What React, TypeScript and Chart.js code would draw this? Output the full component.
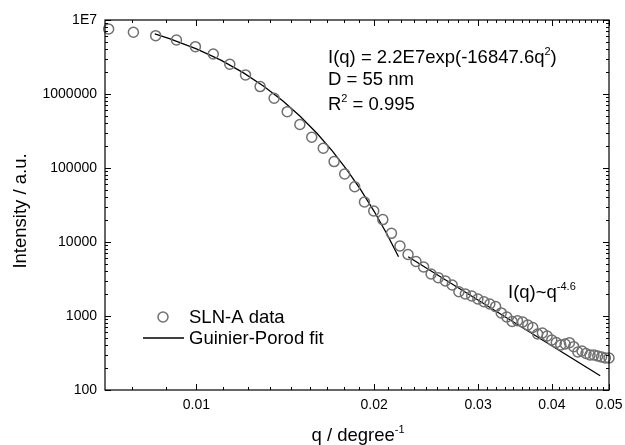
import React, { useEffect, useRef } from 'react';
import { Chart, registerables } from 'chart.js';

Chart.register(...registerables);

// ---- data ----
const Q_DATA = [
  0.0071, 0.00782, 0.00853, 0.00925, 0.00996, 0.01068, 0.01139, 0.01211, 0.01282, 0.01354,
  0.01425, 0.01497, 0.01568, 0.0164, 0.01711, 0.01783, 0.01854, 0.01926, 0.01997, 0.02069,
  0.0214, 0.02212, 0.02283, 0.02355, 0.02426, 0.02498, 0.02569, 0.02641, 0.02712, 0.02784,
  0.02855, 0.02927, 0.02998, 0.0307, 0.03141, 0.03213, 0.03284, 0.03356, 0.03427, 0.03499,
  0.0357, 0.03642, 0.03713, 0.03785, 0.03856, 0.03928, 0.03999, 0.04071, 0.04142, 0.04214,
  0.04285, 0.04357, 0.04428, 0.045, 0.04571, 0.04643, 0.04714, 0.04786, 0.04857, 0.04929,
  0.05,
];
const I_DATA = [
  7.56e6, 6.83e6, 6.14e6, 5.37e6, 4.36e6, 3.47e6, 2.52e6, 1.81e6, 1.26e6, 8.75e5,
  5.77e5, 3.87e5, 2.6e5, 1.85e5, 1.22e5, 8.3e4, 5.59e4, 3.47e4, 2.62e4, 2.01e4,
  1.31e4, 8830, 6780, 5450, 4590, 3700, 3300, 2970, 2620, 2130,
  1980, 1860, 1700, 1560, 1450, 1340, 1100, 969, 843, 863,
  829, 755, 699, 571, 589, 537, 474, 439, 406, 419,
  436, 385, 326, 337, 311, 297, 297, 288, 279, 271,
  271,
];
const Q_GUINIER = [0.0085, 0.009, 0.01, 0.011, 0.012, 0.013, 0.014, 0.015, 0.016, 0.017, 0.018, 0.019, 0.02, 0.021, 0.022];
const I_GUINIER = [6.51e6, 5.62e6, 4.08e6, 2.864e6, 1.944e6, 1.276e6, 8.1e5, 4.97e5, 2.946e5, 1.69e5, 9.37e4, 5.02e4, 2.6e4, 1.304e4, 6325];
const Q_POROD = [0.02284, 0.04831];
const I_POROD = [6330, 156];

const X_TICKS = [0.01, 0.02, 0.03, 0.04, 0.05];
const X_TICK_LABELS = ['0.01', '0.02', '0.03', '0.04', '0.05'];
const Y_TICKS = [100, 1000, 10000, 100000, 1000000, 10000000];
const Y_TICK_LABELS = ['100', '1000', '10000', '100000', '1000000', '1E7'];
const X_MIN = 0.007;
const X_MAX = 0.05;
const Y_MIN = 100;
const Y_MAX = 1e7;

const SERIES_DATA = 'SLN-A data';
const SERIES_FIT = 'Guinier-Porod fit';
const X_TITLE = 'q / degree';
const X_TITLE_SUP = '-1';
const Y_TITLE = 'Intensity / a.u.';

const FONT = '"Liberation Sans", Arial, Helvetica, sans-serif';
const CIRCLE_COLOR = '#707070';
const TEXT_SIZE = 18.5;

type Part = { t: string; sup?: boolean };

function drawRich(ctx: CanvasRenderingContext2D, x: number, y: number, parts: Part[], size = TEXT_SIZE) {
  let cx = x;
  ctx.textBaseline = 'alphabetic';
  ctx.textAlign = 'left';
  for (const p of parts) {
    if (p.sup) {
      ctx.font = `${Math.round(size * 0.62)}px ${FONT}`;
      ctx.fillText(p.t, cx, y - size * 0.42);
    } else {
      ctx.font = `${size}px ${FONT}`;
      ctx.fillText(p.t, cx, y);
    }
    cx += ctx.measureText(p.t).width;
  }
  return cx - x;
}

function richWidth(ctx: CanvasRenderingContext2D, parts: Part[], size = TEXT_SIZE) {
  let w = 0;
  for (const p of parts) {
    ctx.font = p.sup ? `${Math.round(size * 0.62)}px ${FONT}` : `${size}px ${FONT}`;
    w += ctx.measureText(p.t).width;
  }
  return w;
}

const decorPlugin = {
  id: 'decor',
  afterDraw(chart: any) {
    const ctx: CanvasRenderingContext2D = chart.ctx;
    const { left, right, top, bottom } = chart.chartArea;
    const xs = chart.scales.x;
    const ys = chart.scales.y;
    ctx.save();
    ctx.strokeStyle = '#000';
    ctx.fillStyle = '#000';
    ctx.lineWidth = 1.2;
    ctx.strokeRect(left, top, right - left, bottom - top);

    ctx.lineWidth = 1;
    ctx.beginPath();
    for (const v of X_TICKS) {
      const p = Math.round(xs.getPixelForValue(v)) + 0.5;
      ctx.moveTo(p, bottom); ctx.lineTo(p, bottom - 6);
      ctx.moveTo(p, top); ctx.lineTo(p, top + 6);
    }
    for (let m = 7; m <= 45; m++) {
      if (m % 9 === 0) continue;
      const v = (m * 0.01) / 9;
      if (v < X_MIN || v > X_MAX) continue;
      const p = Math.round(xs.getPixelForValue(v)) + 0.5;
      ctx.moveTo(p, bottom); ctx.lineTo(p, bottom - 3);
      ctx.moveTo(p, top); ctx.lineTo(p, top + 3);
    }
    for (const v of Y_TICKS) {
      const p = Math.round(ys.getPixelForValue(v)) + 0.5;
      ctx.moveTo(left, p); ctx.lineTo(left + 6, p);
      ctx.moveTo(right, p); ctx.lineTo(right - 6, p);
      if (v < Y_MAX) {
        for (let k = 2; k <= 9; k++) {
          const q = Math.round(ys.getPixelForValue(v * k)) + 0.5;
          ctx.moveTo(left, q); ctx.lineTo(left + 3, q);
          ctx.moveTo(right, q); ctx.lineTo(right - 3, q);
        }
      }
    }
    ctx.stroke();

    // y axis title
    ctx.save();
    ctx.translate(21, 211);
    ctx.rotate(-Math.PI / 2);
    ctx.font = `${TEXT_SIZE}px ${FONT}`;
    ctx.textAlign = 'center';
    ctx.textBaseline = 'middle';
    ctx.fillText(Y_TITLE, 0, 0);
    ctx.restore();

    // x axis title
    const xt: Part[] = [{ t: X_TITLE }, { t: X_TITLE_SUP, sup: true }];
    const w = richWidth(ctx, xt);
    drawRich(ctx, (left + right) / 2 - w / 2 + 1, 441, xt);

    // annotations
    drawRich(ctx, 328, 63, [{ t: 'I(q) = 2.2E7exp(-16847.6q' }, { t: '2', sup: true }, { t: ')' }]);
    drawRich(ctx, 328, 85, [{ t: 'D = 55 nm' }]);
    drawRich(ctx, 328, 110, [{ t: 'R' }, { t: '2', sup: true }, { t: ' = 0.995' }]);
    drawRich(ctx, 508, 298, [{ t: 'I(q)~q' }, { t: '-4.6', sup: true }]);

    // legend
    ctx.strokeStyle = CIRCLE_COLOR;
    ctx.lineWidth = 1.5;
    ctx.beginPath();
    ctx.arc(163, 317, 5, 0, Math.PI * 2);
    ctx.stroke();
    ctx.strokeStyle = '#000';
    ctx.lineWidth = 1.3;
    ctx.beginPath();
    ctx.moveTo(143, 338);
    ctx.lineTo(184, 338);
    ctx.stroke();
    ctx.font = `${TEXT_SIZE}px ${FONT}`;
    ctx.textAlign = 'left';
    ctx.textBaseline = 'middle';
    ctx.fillText(SERIES_DATA, 189, 318);
    ctx.fillText(SERIES_FIT, 189, 339);

    ctx.restore();
  },
};

export default function App() {
  const canvasRef = useRef<HTMLCanvasElement | null>(null);

  useEffect(() => {
    const canvas = canvasRef.current;
    if (!canvas) return;
    const chart = new Chart(canvas, {
      type: 'scatter',
      data: {
        datasets: [
          {
            label: SERIES_DATA,
            data: Q_DATA.map((q, i) => ({ x: q, y: I_DATA[i] })),
            showLine: false,
            pointStyle: 'circle',
            pointRadius: 5,
            pointBorderWidth: 1.5,
            pointBorderColor: CIRCLE_COLOR,
            pointBackgroundColor: 'rgba(0,0,0,0)',
            clip: false as any,
          } as any,
          {
            label: SERIES_FIT,
            data: Q_GUINIER.map((q, i) => ({ x: q, y: I_GUINIER[i] })),
            showLine: true,
            borderColor: '#000',
            borderWidth: 1.3,
            pointRadius: 0,
            fill: false,
          } as any,
          {
            label: SERIES_FIT + ' (Porod)',
            data: Q_POROD.map((q, i) => ({ x: q, y: I_POROD[i] })),
            showLine: true,
            borderColor: '#000',
            borderWidth: 1.3,
            pointRadius: 0,
            fill: false,
          } as any,
        ],
      },
      options: {
        responsive: false,
        animation: false,
        devicePixelRatio: 1,
        layout: { padding: { top: 20, right: 16, left: 0, bottom: 0 } },
        plugins: {
          legend: { display: false },
          tooltip: { enabled: false },
        },
        scales: {
          x: {
            type: 'logarithmic',
            position: 'bottom',
            min: X_MIN,
            max: X_MAX,
            grid: { display: false, drawTicks: false },
            border: { display: false },
            afterBuildTicks: (scale: any) => {
              scale.ticks = X_TICKS.map((v) => ({ value: v }));
            },
            afterFit: (scale: any) => {
              scale.height = 55;
              scale.paddingLeft = 0;
              scale.paddingRight = 0;
            },
            ticks: {
              autoSkip: false,
              maxRotation: 0,
              padding: 7,
              color: '#000',
              font: { family: FONT, size: 14 },
              callback: (v: any) => {
                const i = X_TICKS.indexOf(Number(v));
                return i >= 0 ? X_TICK_LABELS[i] : '';
              },
            },
          },
          y: {
            type: 'logarithmic',
            position: 'left',
            min: Y_MIN,
            max: Y_MAX,
            grid: { display: false, drawTicks: false },
            border: { display: false },
            afterBuildTicks: (scale: any) => {
              scale.ticks = Y_TICKS.map((v) => ({ value: v }));
            },
            afterFit: (scale: any) => {
              scale.width = 105;
              scale.paddingTop = 0;
              scale.paddingBottom = 0;
            },
            ticks: {
              autoSkip: false,
              padding: 8,
              color: '#000',
              font: { family: FONT, size: 14 },
              callback: (v: any) => {
                const i = Y_TICKS.indexOf(Number(v));
                return i >= 0 ? Y_TICK_LABELS[i] : '';
              },
            },
          },
        },
      } as any,
      plugins: [decorPlugin],
    });
    return () => chart.destroy();
  }, []);

  return (
    <div style={{ position: 'absolute', left: 0, top: 0, width: 625, height: 445, background: '#fff' }}>
      <canvas ref={canvasRef} width={625} height={445} style={{ display: 'block' }} />
    </div>
  );
}
